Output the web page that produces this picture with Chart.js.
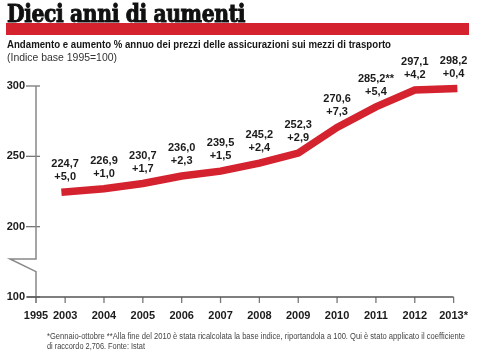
<!DOCTYPE html>
<html><head><meta charset="utf-8">
<script src="https://cdn.jsdelivr.net/npm/chart.js@4.4.1/dist/chart.umd.min.js"></script>
<style>
html,body{margin:0;padding:0;background:#fff;width:480px;height:360px;overflow:hidden;}
#wrap{position:relative;width:480px;height:360px;}
canvas{position:absolute;left:0;top:0;}
.t{position:absolute;white-space:nowrap;transform-origin:0 50%;color:#1b1b1b;}
#bar{position:absolute;left:6px;top:23px;width:463px;height:12px;background:#d4222f;}
#title{left:7px;top:1px;font:bold 25px/25px "DejaVu Serif",serif;letter-spacing:-0.5px;z-index:2;color:#111;-webkit-text-stroke:1px #111;}
#sub{left:7px;top:37px;font:bold 11px/14px "Liberation Sans Narrow","Liberation Sans",sans-serif;color:#161616;}
#idx{left:7px;top:50px;font:11px/14px "Liberation Sans Narrow","Liberation Sans",sans-serif;color:#333;}
#fn1{left:47px;top:331px;font:8.5px/11px "Liberation Sans Narrow","Liberation Sans",sans-serif;color:#444;}
#fn2{left:47px;top:341px;font:8.5px/11px "Liberation Sans Narrow","Liberation Sans",sans-serif;color:#444;}
</style></head>
<body><div id="wrap">
<canvas id="c" width="480" height="360"></canvas>
<div id="bar"></div>
<div class="t" id="title">Dieci anni di aumenti</div>
<div class="t" id="sub">Andamento e aumento % annuo dei prezzi delle assicurazioni sui mezzi di trasporto</div>
<div class="t" id="idx">(Indice base 1995=100)</div>
<div class="t" id="fn1">*Gennaio-ottobre **Alla fine del 2010 è stata ricalcolata la base indice, riportandola a 100. Qui è stato applicato il coefficiente</div>
<div class="t" id="fn2">di raccordo 2,706. Fonte: Istat</div>
</div>
<script>
// ---- data ----
const years = ['2003','2004','2005','2006','2007','2008','2009','2010','2011','2012','2013'];
const yearLabels = ['1995','2003','2004','2005','2006','2007','2008','2009','2010','2011','2012','2013*'];
const indexValues = [224.7,226.9,230.7,236.0,239.5,245.2,252.3,270.6,285.2,297.1,298.2];
const yearlyChanges = [5.0,1.0,1.7,2.3,1.5,2.4,2.9,7.3,5.4,4.2,0.4];
const valueNotes = ['','','','','','','','','**','',''];
const yTickValues = [100,200,250,300];

// axis break: 100 is drawn where 150 would be; 1995 sits just before 2003
const yPos = v => (v === 100 ? 150 : v);
const xPos = l => (l === '1995' ? 2002.25 : parseInt(l, 10));
const breakTop = 177, breakBottom = 168;

const fmt = v => v.toFixed(1).replace('.', ',');
const FONT = '"Liberation Sans", Arial, sans-serif';

function fitWidth(id, w){
  const el = document.getElementById(id);
  const nat = el.getBoundingClientRect().width;
  el.style.transform = 'scaleX(' + (w / nat) + ')';
}
fitWidth('title', 238);
fitWidth('sub', 384);
fitWidth('idx', 110);
fitWidth('fn1', 418);
fitWidth('fn2', 98);

const axisPlugin = {
  id: 'axes',
  beforeDatasetsDraw(chart){
    const {ctx, scales:{x, y}} = chart;
    const x0 = x.getPixelForValue(xPos('1995'));
    const yb = y.getPixelForValue(150);
    const line = (a,b,c,d) => { ctx.beginPath(); ctx.moveTo(a,b); ctx.lineTo(c,d); ctx.stroke(); };
    ctx.save();
    ctx.strokeStyle = '#777'; ctx.lineWidth = 1.3;
    yTickValues.forEach(v => { const py = y.getPixelForValue(yPos(v)); line(x0-10, py, x0+4, py); });
    yearLabels.forEach(l => { const px = x.getPixelForValue(xPos(l)); line(px, yb, px, yb+6); });
    ctx.strokeStyle = '#888'; ctx.lineWidth = 1.5;
    const bt = y.getPixelForValue(breakTop), bb = y.getPixelForValue(breakBottom);
    ctx.beginPath();
    ctx.moveTo(x0, y.getPixelForValue(300));
    ctx.lineTo(x0, bt); ctx.lineTo(x0-26, bt); ctx.lineTo(x0, bb); ctx.lineTo(x0, yb+6);
    ctx.stroke();
    ctx.strokeStyle = '#555'; ctx.lineWidth = 1.6;
    line(x0-9, yb, x.right, yb);
    ctx.restore();
  }
};

const labelPlugin = {
  id: 'vlabels',
  afterDatasetsDraw(chart){
    const {ctx, scales:{x, y}} = chart;
    ctx.save();
    ctx.fillStyle = '#1b1b1b';
    ctx.font = 'bold 11px ' + FONT;
    ctx.textAlign = 'center'; ctx.textBaseline = 'middle';
    years.forEach((yr, i) => {
      const px = x.getPixelForValue(+yr), py = y.getPixelForValue(indexValues[i]);
      ctx.fillText(fmt(indexValues[i]) + valueNotes[i], px, py - 28);
      ctx.fillText('+' + fmt(yearlyChanges[i]), px, py - 15);
    });
    ctx.restore();
  }
};

new Chart(document.getElementById('c'), {
  type: 'line',
  data: { datasets: [{
    data: years.map((yr, i) => ({x: +yr, y: indexValues[i]})),
    borderColor: '#d4222f', borderWidth: 7.5, pointRadius: 0, tension: 0,
    borderCapStyle: 'square', clip: false, fill: false
  }]},
  options: {
    responsive: false, animation: false, events: [],
    layout: { padding: { top: 86, right: 26, left: 0, bottom: 0 } },
    plugins: { legend: { display: false }, tooltip: { enabled: false } },
    scales: {
      x: {
        type: 'linear', min: xPos('1995'), max: xPos('2013*'),
        grid: { display: false, drawTicks: false }, border: { display: false },
        afterBuildTicks: s => { s.ticks = yearLabels.map(l => ({value: xPos(l)})); },
        afterFit: s => { s.height = 63; },
        ticks: { autoSkip: false, maxRotation: 0, padding: 12, color: '#1b1b1b',
          font: { family: FONT, weight: 'bold', size: 11 },
          callback: (v, i) => yearLabels[i] }
      },
      y: {
        type: 'linear', min: 150, max: 300,
        grid: { display: false, drawTicks: false }, border: { display: false },
        afterBuildTicks: s => { s.ticks = yTickValues.map(v => ({value: yPos(v)})); },
        afterFit: s => { s.width = 36; },
        ticks: { padding: 11, color: '#1b1b1b',
          font: { family: FONT, weight: 'bold', size: 11 },
          callback: (v, i) => String(yTickValues[i]) }
      }
    }
  },
  plugins: [axisPlugin, labelPlugin]
});
</script>
</body></html>
